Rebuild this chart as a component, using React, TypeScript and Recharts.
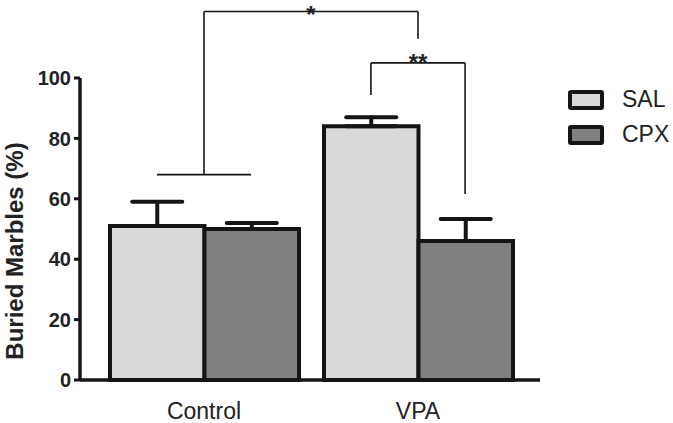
import { Bar, BarChart, ErrorBar, Legend, ReferenceLine, XAxis, YAxis } from "recharts";

const groups = ["Control", "VPA"];
const salMeans = [51, 84];
const cpxMeans = [50, 46];
const salSem = [8, 3];
const cpxSem = [2, 7.3];
const yTicks = [0, 20, 40, 60, 80, 100];

// significance brackets, x in group units (group i spans i..i+1), y in %
const brackets = [
  { from: 0.5, to: 1.5, top: 122, leftEnd: 68, rightEnd: 113, mark: "*" },
  { from: 1.28, to: 1.72, top: 105, leftEnd: 94.4, rightEnd: 61.6, mark: "**" },
];
const controlLink = { from: 0.28, to: 0.72, y: 68 };

const COLORS = {
  sal: "#d9d9d9",
  cpx: "#808080",
  ink: "#151515",
};

const FONT = "Liberation Sans, Arial, sans-serif";

const data = groups.map((name, i) => ({
  name,
  SAL: salMeans[i],
  CPX: cpxMeans[i],
  salErr: [0, salSem[i]],
  cpxErr: [0, cpxSem[i]],
}));

const legendItems = [
  { label: "SAL", color: COLORS.sal },
  { label: "CPX", color: COLORS.cpx },
];

// hidden numeric axis runs 0..1 across the groups
const gx = (v: number) => v / groups.length;

function LegendBox() {
  return (
    <div style={{ fontFamily: FONT }}>
      {legendItems.map((item) => (
        <div key={item.label} style={{ display: "flex", alignItems: "center", height: 35 }}>
          <div
            style={{
              width: 28,
              height: 12,
              background: item.color,
              border: `4px solid ${COLORS.ink}`,
              borderRadius: 3,
              marginRight: 18,
            }}
          />
          <span style={{ fontSize: 23, color: "#222" }}>{item.label}</span>
        </div>
      ))}
    </div>
  );
}

function CategoryTick({ x, y, payload }: any) {
  return (
    <text x={x} y={y + 37} textAnchor="middle" fontSize={23} fontFamily={FONT} fill="#222">
      {payload.value}
    </text>
  );
}

function YLabel({ viewBox }: any) {
  const cx = viewBox.x + 4;
  const cy = viewBox.y + viewBox.height / 2 + 22;
  return (
    <text
      x={cx}
      y={cy}
      transform={`rotate(-90, ${cx}, ${cy})`}
      textAnchor="middle"
      dominantBaseline="central"
      fontSize={24}
      fontWeight="bold"
      fontFamily={FONT}
      fill="#222"
    >
      Buried Marbles (%)
    </text>
  );
}

const line = { stroke: COLORS.ink, strokeWidth: 1.6, ifOverflow: "visible" as const, xAxisId: "n" };

export default function App() {
  return (
    <div style={{ position: "absolute", left: 0, top: 0, background: "#fff" }}>
      <BarChart
        width={673}
        height={423}
        data={data}
        margin={{ top: 78, right: 133, bottom: 13, left: 10 }}
        barGap={0}
        barSize={94.5}
      >
        <XAxis
          dataKey="name"
          height={30}
          padding={{ left: 17, right: 15 }}
          axisLine={{ stroke: COLORS.ink, strokeWidth: 3.5 }}
          tickLine={false}
          tickSize={0}
          tick={<CategoryTick />}
        />
        <XAxis xAxisId="n" type="number" domain={[0, 1]} padding={{ left: 17, right: 15 }} hide allowDataOverflow />
        <YAxis
          width={70}
          domain={[0, 100]}
          ticks={yTicks}
          interval={0}
          axisLine={{ stroke: COLORS.ink, strokeWidth: 3.5 }}
          tickLine={{ stroke: COLORS.ink, strokeWidth: 3 }}
          tickSize={6}
          tickMargin={3}
          tick={{ fontSize: 20, fontWeight: "bold", fill: "#222", fontFamily: FONT }}
          label={<YLabel />}
        />
        <Legend
          layout="vertical"
          align="center"
          verticalAlign="middle"
          content={<LegendBox />}
          wrapperStyle={{ left: 568, top: 82, width: 105 }}
        />
        <Bar dataKey="SAL" fill={COLORS.sal} stroke={COLORS.ink} strokeWidth={4} isAnimationActive={false}>
          <ErrorBar dataKey="salErr" direction="y" width={25} stroke={COLORS.ink} strokeWidth={4} strokeLinecap="round" />
        </Bar>
        <Bar dataKey="CPX" fill={COLORS.cpx} stroke={COLORS.ink} strokeWidth={4} isAnimationActive={false}>
          <ErrorBar dataKey="cpxErr" direction="y" width={25} stroke={COLORS.ink} strokeWidth={4} strokeLinecap="round" />
        </Bar>
        {brackets.map((b, i) => [
          <ReferenceLine
            key={`${b.mark}-top`}
            {...line}
            segment={[{ x: gx(b.from), y: b.top }, { x: gx(b.to), y: b.top }]}
            label={{
              value: b.mark,
              position: "top",
              offset: i === 0 ? -11 : -8,
              fontSize: 24,
              fontWeight: "bold",
              fill: "#222",
              fontFamily: FONT,
            }}
          />,
          <ReferenceLine key={`${b.mark}-l`} {...line} segment={[{ x: gx(b.from), y: b.top }, { x: gx(b.from), y: b.leftEnd }]} />,
          <ReferenceLine key={`${b.mark}-r`} {...line} segment={[{ x: gx(b.to), y: b.top }, { x: gx(b.to), y: b.rightEnd }]} />,
        ])}
        <ReferenceLine
          {...line}
          segment={[{ x: gx(controlLink.from), y: controlLink.y }, { x: gx(controlLink.to), y: controlLink.y }]}
        />
      </BarChart>
    </div>
  );
}
